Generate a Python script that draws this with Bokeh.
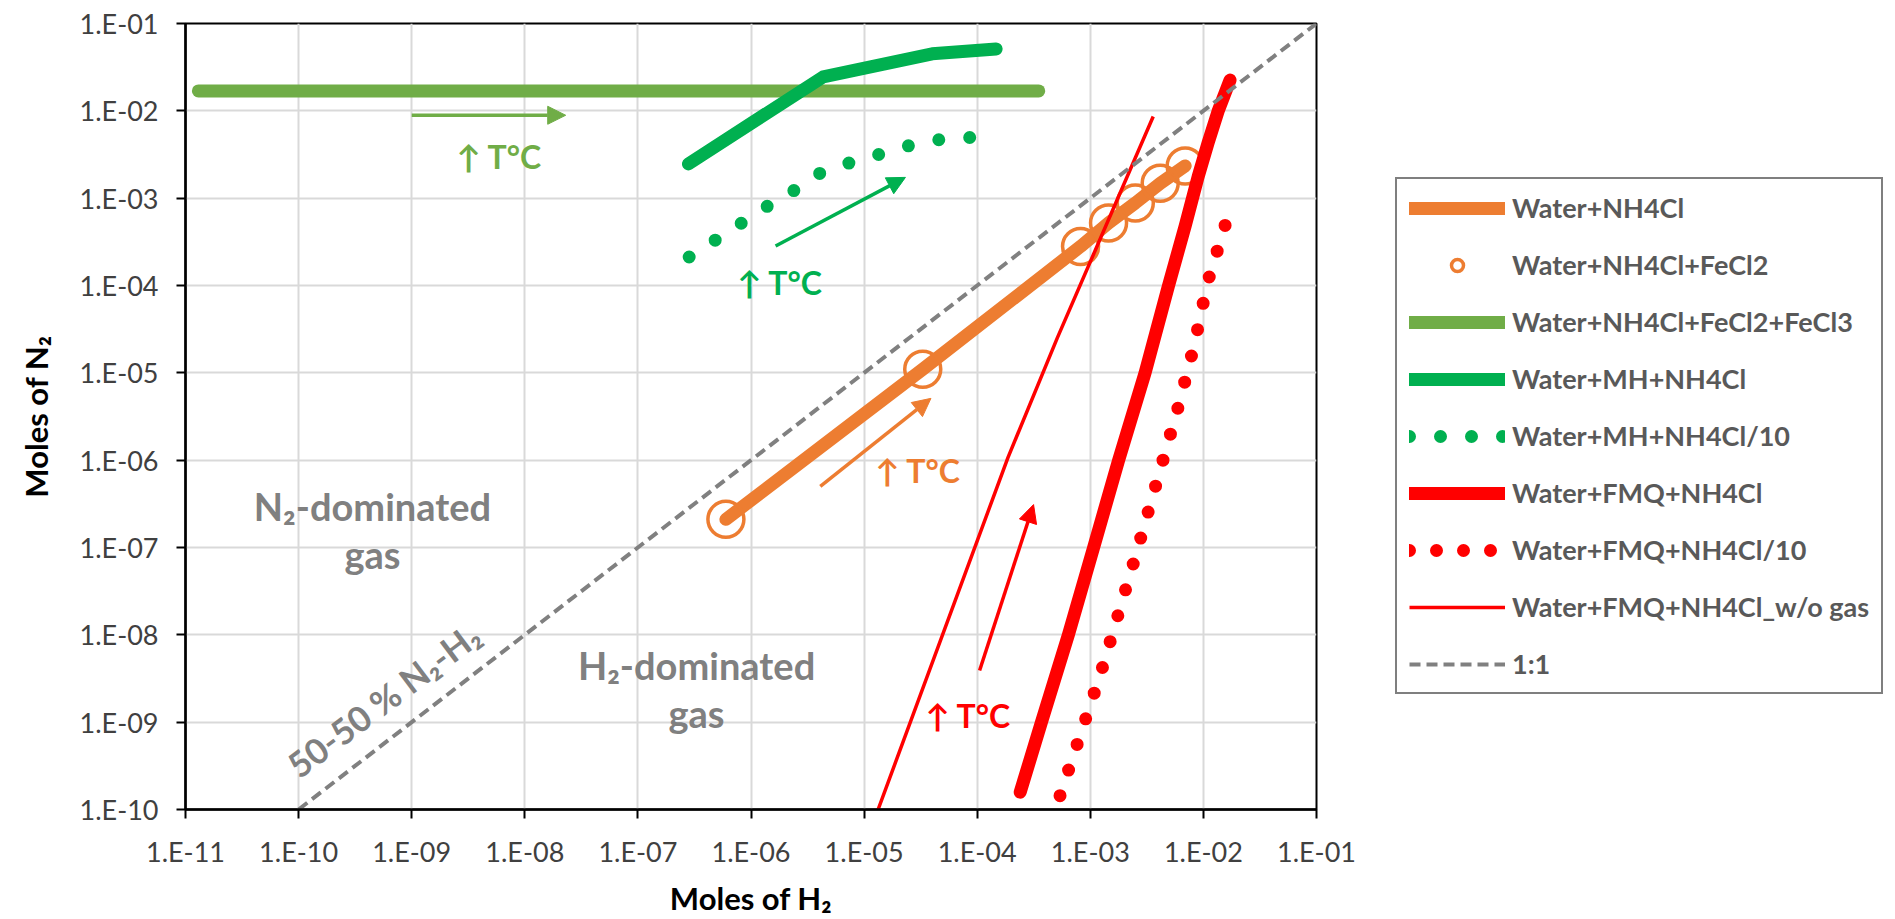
import math
from bokeh.plotting import figure
from bokeh.models import (FixedTicker, CustomJSTickFormatter, Legend, LegendItem,
                          Arrow, NormalHead, Label)
from bokeh.embed import file_html
from bokeh.resources import INLINE

FONT = "Lato"

# ---------------- data ----------------
x_ticks = [1e-11, 1e-10, 1e-9, 1e-8, 1e-7, 1e-6, 1e-5, 1e-4, 1e-3, 1e-2, 1e-1]
y_ticks = [1e-10, 1e-9, 1e-8, 1e-7, 1e-6, 1e-5, 1e-4, 1e-3, 1e-2, 1e-1]

nh4cl_h2 = [6.0e-7, 3.3e-5, 8.2e-4, 1.45e-3, 2.5e-3, 4.15e-3, 6.9e-3]
nh4cl_n2 = [2.1e-7, 1.1e-5, 2.8e-4, 5.2e-4, 8.8e-4, 1.48e-3, 2.34e-3]

fecl2_h2 = [6.0e-7, 3.3e-5, 8.2e-4, 1.45e-3, 2.5e-3, 4.15e-3, 6.9e-3]
fecl2_n2 = [2.1e-7, 1.1e-5, 2.8e-4, 5.2e-4, 8.8e-4, 1.48e-3, 2.34e-3]

fecl3_h2 = [1.3e-11, 3.5e-4]
fecl3_n2 = [1.69e-2, 1.69e-2]

mh_h2 = [2.8e-7, 4.35e-6, 4.0e-5, 1.47e-4]
mh_n2 = [2.47e-3, 2.45e-2, 4.5e-2, 5.1e-2]

mh10_h2 = [2.84e-7, 8.4e-7, 1.42e-6, 2.44e-6, 4.15e-6, 7.6e-6, 1.4e-5, 2.62e-5, 4.8e-5, 9.2e-5]
mh10_n2 = [2.12e-4, 5.27e-4, 8.2e-4, 1.24e-3, 1.96e-3, 2.56e-3, 3.21e-3, 4.07e-3, 4.72e-3, 4.98e-3]

fmq_h2 = [2.4e-4, 3.7e-4, 6.4e-4, 1.07e-3, 1.78e-3, 3.05e-3, 4.9e-3, 6.9e-3, 9.0e-3, 1.1e-2, 1.36e-2, 1.72e-2]
fmq_n2 = [1.58e-10, 1e-9, 1e-8, 1e-7, 1e-6, 1e-5, 9.8e-5, 4.8e-4, 1.78e-3, 4.3e-3, 1.02e-2, 2.25e-2]

fmq10_h2 = [5.4e-4, 1.21e-3, 2.5e-3, 6.0e-3, 8.3e-3, 1.09e-2, 1.6e-2]
fmq10_n2 = [1.44e-10, 3.3e-9, 7.8e-8, 4.1e-6, 2.07e-5, 1.09e-4, 5.5e-4]

wog_h2 = [1.33e-5, 1.87e-4, 5.1e-4, 3.6e-3]
wog_n2 = [1e-10, 1.07e-6, 2.5e-5, 8.6e-3]

one_h2 = [1e-10, 1e-1]
one_n2 = [1e-10, 1e-1]

legend_labels = ["Water+NH4Cl", "Water+NH4Cl+FeCl2", "Water+NH4Cl+FeCl2+FeCl3",
                 "Water+MH+NH4Cl", "Water+MH+NH4Cl/10", "Water+FMQ+NH4Cl",
                 "Water+FMQ+NH4Cl/10", "Water+FMQ+NH4Cl_w/o gas", "1:1"]

# arrows: (x_start, y_start, x_end, y_end, colour)
arrows = [
    (1.0e-9, 8.9e-3, 2.3e-8, 8.9e-3, "#70AD47"),
    (1.65e-6, 2.83e-4, 2.32e-5, 1.73e-3, "#00B050"),
    (4.1e-6, 5.0e-7, 3.9e-5, 5.1e-6, "#ED7D31"),
    (1.05e-4, 3.9e-9, 3.15e-4, 3.1e-7, "#FF0000"),
]
# temperature labels: (x, y, colour)
temp_labels = [
    (2.5e-9, 3.0e-3, "#70AD47"),
    (7.6e-7, 1.07e-4, "#00B050"),
    (1.26e-5, 7.6e-7, "#ED7D31"),
    (3.5e-5, 1.18e-9, "#FF0000"),
]
# region labels: (x, y, text)
region_labels = [
    (4.5e-10, 3.0e-7, "N\u2082-dominated"),
    (4.5e-10, 8.5e-8, "gas"),
    (3.3e-7, 4.5e-9, "H\u2082-dominated"),
    (3.3e-7, 1.27e-9, "gas"),
]
diag_label = (5.6e-10, 1.83e-9, "50-50 % N\u2082-H\u2082")

ORANGE = "#ED7D31"
LGREEN = "#70AD47"
GREEN = "#00B050"
RED = "#FF0000"
GRAY = "#808080"

FRAME_W, FRAME_H = 1131, 786
PX_DEC_X = FRAME_W / 10.0
PX_DEC_Y = FRAME_H / 9.0


def dot_dash(xs, ys, target=30):
    """Round-dot dash pattern whose period fits the drawn path length,
    so that a dot falls (just) on both ends of the series."""
    L = 0.0
    for i in range(1, len(xs)):
        dx = (math.log10(xs[i]) - math.log10(xs[i - 1])) * PX_DEC_X
        dy = (math.log10(ys[i]) - math.log10(ys[i - 1])) * PX_DEC_Y
        L += math.hypot(dx, dy)
    best = min(range(target - 3, target + 4), key=lambda q: abs((L % q) - 3.0))
    return "0 %d" % best


# ---------------- figure ----------------
p = figure(x_axis_type="log", y_axis_type="log",
           x_range=(1e-11, 1e-1), y_range=(1e-10, 1e-1),
           frame_width=FRAME_W, frame_height=FRAME_H,
           min_border_left=185, min_border_right=574,
           min_border_top=23, min_border_bottom=100,
           output_backend="svg", toolbar_location=None,
           background_fill_color="white", border_fill_color="white")

fmt = CustomJSTickFormatter(code="""
const e = Math.round(Math.log10(tick));
const s = e < 0 ? "-" : "+";
const a = Math.abs(e);
return "1.E" + s + (a < 10 ? "0" + a : "" + a);
""")

for ax, tk in ((p.xaxis, x_ticks), (p.yaxis, y_ticks)):
    ax.ticker = FixedTicker(ticks=tk)
    ax.formatter = fmt
    ax.minor_tick_line_color = None
    ax.major_tick_in = 0
    ax.major_tick_out = 9
    ax.major_tick_line_width = 2
    ax.major_tick_line_color = "black"
    ax.axis_line_color = "black"
    ax.axis_line_width = 2.5
    ax.major_label_text_font = FONT
    ax.major_label_text_font_size = "27px"
    ax.major_label_text_color = "#404040"
    ax.axis_label_text_font = FONT
    ax.axis_label_text_font_size = "31px"
    ax.axis_label_text_font_style = "bold"
    ax.axis_label_text_color = "black"

p.xaxis.axis_label = "Moles of H\u2082"
p.yaxis.axis_label = "Moles of N\u2082"
p.xaxis.major_label_standoff = 16
p.xaxis.axis_label_standoff = 8
p.yaxis.major_label_standoff = 18
p.yaxis.axis_label_standoff = 22

p.xgrid.grid_line_color = "#D9D9D9"
p.ygrid.grid_line_color = "#D9D9D9"
p.xgrid.grid_line_width = 2
p.ygrid.grid_line_width = 2
p.outline_line_color = "black"
p.outline_line_width = 2
p.outline_line_alpha = 1

# ---------------- series ----------------
r1 = p.line(nh4cl_h2, nh4cl_n2, line_color=ORANGE, line_width=13, line_cap="round", line_join="round")
r2 = p.scatter(fecl2_h2, fecl2_n2, marker="circle", size=36, fill_color=None,
               line_color=ORANGE, line_width=3.5)
r3 = p.line(fecl3_h2, fecl3_n2, line_color=LGREEN, line_width=13, line_cap="round")
r4 = p.line(mh_h2, mh_n2, line_color=GREEN, line_width=13, line_cap="round", line_join="round")
r5 = p.line(mh10_h2, mh10_n2, line_color=GREEN, line_width=13, line_cap="round",
            line_dash=dot_dash(mh10_h2, mh10_n2))
r6 = p.line(fmq_h2, fmq_n2, line_color=RED, line_width=13, line_cap="round", line_join="round")
r7 = p.line(fmq10_h2, fmq10_n2, line_color=RED, line_width=13, line_cap="round",
            line_dash=dot_dash(fmq10_h2, fmq10_n2))
r8 = p.line(wog_h2, wog_n2, line_color=RED, line_width=3.5)
r9 = p.line(one_h2, one_n2, line_color=GRAY, line_width=4, line_dash="11 6")

renderers = [r1, r2, r3, r4, r5, r6, r7, r8, r9]
legend = Legend(items=[LegendItem(label=l, renderers=[r]) for l, r in zip(legend_labels, renderers)],
                location=(79, 115),
                glyph_width=96, glyph_height=30, label_standoff=7, spacing=24,
                padding=12, margin=0,
                label_text_font=FONT, label_text_font_size="27px",
                label_text_font_style="bold", label_text_color="#595959",
                border_line_color="black", border_line_width=2,
                background_fill_color="white", background_fill_alpha=1)
p.add_layout(legend, "right")

# ---------------- annotations ----------------
for xs, ys, xe, ye, c in arrows:
    p.add_layout(Arrow(end=NormalHead(size=18, fill_color=c, line_color=c),
                       x_start=xs, y_start=ys, x_end=xe, y_end=ye,
                       line_color=c, line_width=3.5))

for x, y, c in temp_labels:
    p.add_layout(Label(x=x, y=y, text="\u2191 T\u00b0C", text_color=c, text_font=FONT,
                       text_font_size="32px", text_font_style="bold",
                       text_baseline="middle", text_align="left"))

for x, y, t in region_labels:
    p.add_layout(Label(x=x, y=y, text=t, text_color=GRAY, text_font=FONT,
                       text_font_size="38px", text_font_style="bold",
                       text_align="center", text_baseline="alphabetic"))

p.add_layout(Label(x=diag_label[0], y=diag_label[1], text=diag_label[2], angle=0.646,
                   text_color=GRAY, text_font=FONT, text_font_size="35px",
                   text_font_style="bold", text_align="center", text_baseline="middle"))

open("out.html", "w").write(file_html(p, INLINE))
